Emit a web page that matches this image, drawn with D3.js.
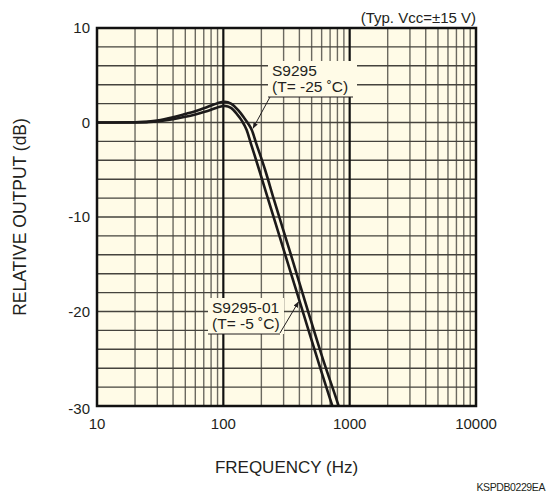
<!DOCTYPE html>
<html>
<head>
<meta charset="utf-8">
<script src="https://cdn.jsdelivr.net/npm/d3@7"></script>
<style>
  body { margin: 0; background: #fff; }
  text { font-family: "Liberation Sans", Arial, sans-serif; fill: #231f20; }
</style>
</head>
<body>
<div id="chart"></div>
<script>
// frequency response
const xTicks = [10, 100, 1000, 10000];
const yTicks = [10, 0, -10, -20, -30];

// S9295 (T = -25 °C)
const freqA = [10, 20, 30, 40, 50, 60, 70, 80, 90, 103, 115, 131, 145, 157, 168, 182, 214, 252, 334, 464, 616, 809, 850];
const dbA   = [0, 0.02, 0.2, 0.55, 0.9, 1.2, 1.5, 1.8, 2.05, 2.2, 2.0, 1.3, 0.55, -0.1, -0.8, -2.2, -5.0, -8.2, -13.5, -19.8, -25.1, -29.8, -30.7];

// S9295-01 (T = -5 °C)
const freqB = [10, 20, 30, 40, 50, 60, 70, 80, 90, 103, 115, 128, 140, 153, 165, 192, 227, 301, 421, 558, 722, 760];
const dbB   = [0, 0.01, 0.12, 0.35, 0.6, 0.85, 1.1, 1.35, 1.6, 1.75, 1.55, 0.9, 0.2, -0.8, -2.2, -5.0, -8.2, -13.5, -19.8, -25.1, -29.8, -30.7];

const labelA = ["S9295", "(T= -25 ˚C)"];
const labelB = ["S9295-01", "(T= -5 ˚C)"];

const W = 555, H = 497;
const m = {left: 97, top: 28, right: 476, bottom: 406};
const bg = "#fffbe7";

const svg = d3.select("#chart").append("svg")
  .attr("width", W)
  .attr("height", H);

const x = d3.scaleLog().domain([10, 10000]).range([m.left, m.right]);
const y = d3.scaleLinear().domain([-30, 10]).range([m.bottom, m.top]);

svg.append("rect")
  .attr("x", m.left).attr("y", m.top)
  .attr("width", m.right - m.left).attr("height", m.bottom - m.top)
  .attr("fill", bg);

// grid
const grid = svg.append("g");
const minorX = [];
for (let dec = 10; dec < 10000; dec *= 10) {
  for (let k = 2; k <= 9; k++) minorX.push(dec * k);
}
grid.selectAll(".vminor").data(minorX).enter().append("line")
  .attr("x1", d => x(d)).attr("x2", d => x(d))
  .attr("y1", m.top).attr("y2", m.bottom)
  .attr("stroke", "#6b6960").attr("stroke-width", 1.4);

grid.selectAll(".h").data(d3.range(-28, 10, 2)).enter().append("line")
  .attr("x1", m.left).attr("x2", m.right)
  .attr("y1", d => y(d)).attr("y2", d => y(d))
  .attr("stroke", "#45433d").attr("stroke-width", 1.4);

grid.selectAll(".vmajor").data([100, 1000]).enter().append("line")
  .attr("x1", d => x(d)).attr("x2", d => x(d))
  .attr("y1", m.top).attr("y2", m.bottom)
  .attr("stroke", "#111").attr("stroke-width", 2.2);

// curves
svg.append("clipPath").attr("id", "plotclip")
  .append("rect")
  .attr("x", m.left).attr("y", m.top)
  .attr("width", m.right - m.left).attr("height", m.bottom - m.top);

const line = d3.line()
  .x(d => x(d[0]))
  .y(d => y(d[1]))
  .curve(d3.curveMonotoneX);

const curves = svg.append("g").attr("clip-path", "url(#plotclip)");
[[freqA, dbA], [freqB, dbB]].forEach(([f, v]) => {
  curves.append("path")
    .datum(f.map((d, i) => [d, v[i]]))
    .attr("d", line)
    .attr("fill", "none")
    .attr("stroke", "#1c1a1a")
    .attr("stroke-width", 2.6);
});

// annotations
svg.append("defs").append("marker")
  .attr("id", "arrow")
  .attr("viewBox", "0 0 10 10")
  .attr("refX", 9).attr("refY", 5)
  .attr("markerWidth", 6).attr("markerHeight", 6)
  .attr("orient", "auto")
  .append("path")
  .attr("d", "M0,1 L10,5 L0,9 Z")
  .attr("fill", "#231f20");

function annotate(lines, bx, by, bw, bh, from, tip) {
  const g = svg.append("g");
  g.append("rect")
    .attr("x", bx).attr("y", by).attr("width", bw).attr("height", bh)
    .attr("fill", bg);
  g.selectAll("text").data(lines).enter().append("text")
    .attr("x", bx + 4)
    .attr("y", (d, i) => by + 15 + i * 16)
    .attr("font-size", 15.5)
    .text(d => d);
  g.append("line")
    .attr("x1", bx).attr("x2", bx + bw - 4)
    .attr("y1", by + bh).attr("y2", by + bh)
    .attr("stroke", "#231f20").attr("stroke-width", 1);
  g.append("line")
    .attr("x1", from[0]).attr("y1", from[1])
    .attr("x2", tip[0]).attr("y2", tip[1])
    .attr("stroke", "#231f20").attr("stroke-width", 1)
    .attr("marker-end", "url(#arrow)");
}

annotate(labelA, 268, 61, 89, 36, [270, 97], [x(172), y(-0.6)]);
annotate(labelB, 208, 298, 76, 36, [280, 333], [x(393), y(-19)]);

// frame
svg.append("rect")
  .attr("x", m.left).attr("y", m.top)
  .attr("width", m.right - m.left).attr("height", m.bottom - m.top)
  .attr("fill", "none")
  .attr("stroke", "#111").attr("stroke-width", 2.5);

// tick labels
svg.selectAll(".xt").data(xTicks).enter().append("text")
  .attr("x", d => x(d)).attr("y", m.bottom + 23)
  .attr("text-anchor", "middle")
  .attr("font-size", 15)
  .text(d => d);

svg.selectAll(".yt").data(yTicks).enter().append("text")
  .attr("x", 90).attr("y", d => y(d) + 5 + (d === -30 ? 3 : 0))
  .attr("text-anchor", "end")
  .attr("font-size", 15)
  .text(d => d);

// axis titles
svg.append("text")
  .attr("x", (m.left + m.right) / 2).attr("y", 473)
  .attr("text-anchor", "middle")
  .attr("font-size", 17)
  .text("FREQUENCY (Hz)");

svg.append("text")
  .attr("transform", `translate(26, ${(m.top + m.bottom) / 2}) rotate(-90)`)
  .attr("text-anchor", "middle")
  .attr("font-size", 17.5)
  .text("RELATIVE OUTPUT (dB)");

svg.append("text")
  .attr("x", m.right).attr("y", 23)
  .attr("text-anchor", "end")
  .attr("font-size", 15)
  .text("(Typ. Vcc=±15 V)");

svg.append("text")
  .attr("x", 545).attr("y", 491)
  .attr("text-anchor", "end")
  .attr("font-size", 10.5)
  .attr("letter-spacing", -0.4)
  .text("KSPDB0229EA");
</script>
</body>
</html>
